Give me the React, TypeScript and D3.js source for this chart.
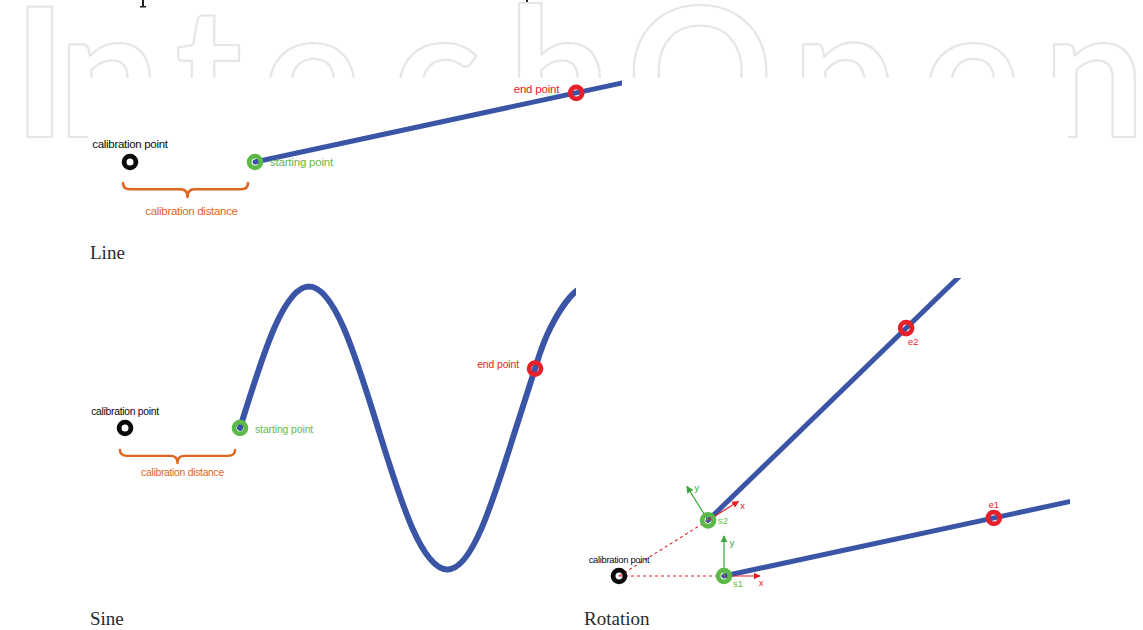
import React from "react";
import * as d3 from "d3";

// ---------- data (in units of the calibration distance, origin = calibration point) ----------
const calibrationPoint: [number, number] = [0, 0];
const startPoint: [number, number] = [1, 0];
const endPoint: [number, number] = [3.57, 0.553];
const rotationDeg = 32;

// sine panel: phase (in periods) and normalised value
const sinePhase = [0, 0.125, 0.25, 0.375, 0.5, 0.625, 0.75, 0.875, 1.0, 1.069, 1.125, 1.25, 1.375, 1.5];
const sineValue = [0, 0.71, 1, 0.71, 0, -0.71, -1, -0.71, 0, 0.42, 0.71, 1, 0.71, 0];
const sinePeriod = 2.4; // calibration units
const sineAmplitude = 1.23; // calibration units
const sineEndIndex = 9;

const watermarkLetters = ["I", "n", "t", "e", "c", "h", "O", "p", "e", "n"];
const watermarkX = [13, 58, 175, 263, 393, 508, 627, 792, 923, 1043];

const captions = ["Line", "Sine", "Rotation"];

// ---------- styles ----------
const BLUE = "#3b55a6";
const GREEN = "#5cb947";
const GREEN_TXT = "#63bb4a";
const RED = "#e8202a";
const ORANGE = "#e0661f";
const BLACK = "#0b0b0b";
const SANS = "'Liberation Sans', Arial, Helvetica, sans-serif";
const SERIF = "'Liberation Serif', 'Times New Roman', serif";

function makeScales(ox: number, oy: number, unit: number) {
  const sx = d3.scaleLinear().domain([0, 1]).range([ox, ox + unit]);
  const sy = d3.scaleLinear().domain([0, 1]).range([oy, oy - unit]);
  return { sx, sy };
}

function rotate(p: [number, number], deg: number): [number, number] {
  const a = (deg * Math.PI) / 180;
  return [p[0] * Math.cos(a) - p[1] * Math.sin(a), p[0] * Math.sin(a) + p[1] * Math.cos(a)];
}

function farPoint(): [number, number] {
  const k = 1.6;
  return [startPoint[0] + (endPoint[0] - startPoint[0]) * k, startPoint[1] + (endPoint[1] - startPoint[1]) * k];
}

function bracePath(x0: number, x1: number, yTop: number, yTip: number, tipX: number) {
  const yMid = yTop + (yTip - yTop) * 0.45;
  const r = 7;
  return `M${x0},${yTop} Q${x0},${yMid} ${x0 + r},${yMid} L${tipX - r},${yMid} Q${tipX},${yMid} ${tipX},${yTip} Q${tipX},${yMid} ${tipX + r},${yMid} L${x1 - r},${yMid} Q${x1},${yMid} ${x1},${yTop}`;
}

const Ring = ({ x, y, color }: { x: number; y: number; color: string }) => (
  <circle cx={x} cy={y} r={5.9} fill="none" stroke={color} strokeWidth={4.8} />
);

function LinePanel() {
  const { sx, sy } = makeScales(130, 162, 125);
  const line = d3.line<[number, number]>().x((d) => sx(d[0])).y((d) => sy(d[1]));
  const cp = [sx(calibrationPoint[0]), sy(calibrationPoint[1])];
  const sp = [sx(startPoint[0]), sy(startPoint[1])];
  const ep = [sx(endPoint[0]), sy(endPoint[1])];
  const fs = 11.5;
  return (
    <g>
      <defs>
        <clipPath id="clipLine">
          <rect x={88} y={78} width={534} height={165} />
        </clipPath>
      </defs>
      <path d={line([startPoint, farPoint()]) || ""} stroke={BLUE} strokeWidth={5} fill="none" strokeLinecap="round" clipPath="url(#clipLine)" />
      <Ring x={cp[0]} y={cp[1]} color={BLACK} />
      <Ring x={sp[0]} y={sp[1]} color={GREEN} />
      <Ring x={ep[0]} y={ep[1]} color={RED} />
      <text x={cp[0]} y={cp[1] - 14} fontSize={fs} fontFamily={SANS} fill={BLACK} textAnchor="middle" letterSpacing={-0.3}>calibration point</text>
      <text x={sp[0] + 15} y={sp[1] + 4} fontSize={fs} fontFamily={SANS} fill={GREEN_TXT} letterSpacing={-0.2}>starting point</text>
      <text x={ep[0] - 17} y={ep[1]} fontSize={fs} fontFamily={SANS} fill={RED} textAnchor="end" letterSpacing={-0.2}>end point</text>
      <path d={bracePath(cp[0] - 7, sp[0] - 7, cp[1] + 21, cp[1] + 35, (cp[0] + sp[0]) / 2 - 5)} stroke={ORANGE} strokeWidth={2.6} fill="none" strokeLinecap="round" strokeLinejoin="round" />
      <text x={(cp[0] + sp[0]) / 2 - 1} y={cp[1] + 53} fontSize={fs} fontFamily={SANS} fill={ORANGE} textAnchor="middle" letterSpacing={-0.3}>calibration distance</text>
    </g>
  );
}

function SinePanel() {
  const { sx, sy } = makeScales(125, 428, 115);
  const pts: [number, number][] = sinePhase.map((p, i) => [startPoint[0] + p * sinePeriod, sineValue[i] * sineAmplitude]);
  const line = d3.line<[number, number]>().x((d) => sx(d[0])).y((d) => sy(d[1])).curve(d3.curveNatural);
  const cp = [sx(calibrationPoint[0]), sy(calibrationPoint[1])];
  const sp = [sx(startPoint[0]), sy(startPoint[1])];
  const ep = [sx(pts[sineEndIndex][0]), sy(pts[sineEndIndex][1])];
  const fs = 10.4;
  return (
    <g>
      <defs>
        <clipPath id="clipSine">
          <rect x={88} y={270} width={488} height={330} />
        </clipPath>
      </defs>
      <path d={line(pts) || ""} stroke={BLUE} strokeWidth={6} fill="none" strokeLinecap="round" clipPath="url(#clipSine)" />
      <Ring x={cp[0]} y={cp[1]} color={BLACK} />
      <Ring x={sp[0]} y={sp[1]} color={GREEN} />
      <Ring x={ep[0]} y={ep[1]} color={RED} />
      <text x={cp[0]} y={cp[1] - 13} fontSize={fs} fontFamily={SANS} fill={BLACK} textAnchor="middle" letterSpacing={-0.3}>calibration point</text>
      <text x={sp[0] + 15} y={sp[1] + 5} fontSize={fs} fontFamily={SANS} fill={GREEN_TXT} letterSpacing={-0.1}>starting point</text>
      <text x={ep[0] - 16} y={ep[1] - 1} fontSize={fs} fontFamily={SANS} fill={RED} textAnchor="end" letterSpacing={-0.1}>end point</text>
      <path d={bracePath(cp[0] - 5, sp[0] - 5, cp[1] + 22, cp[1] + 35, (cp[0] + sp[0]) / 2 - 5)} stroke={ORANGE} strokeWidth={2.4} fill="none" strokeLinecap="round" strokeLinejoin="round" />
      <text x={(cp[0] + sp[0]) / 2} y={cp[1] + 48} fontSize={fs} fontFamily={SANS} fill={ORANGE} textAnchor="middle" letterSpacing={-0.3}>calibration distance</text>
    </g>
  );
}

function RotationPanel() {
  const { sx, sy } = makeScales(619, 576, 105);
  const P = (p: [number, number]) => [sx(p[0]), sy(p[1])] as [number, number];
  const line = d3.line<[number, number]>().x((d) => sx(d[0])).y((d) => sy(d[1]));
  const s2 = rotate(startPoint, rotationDeg);
  const e2 = rotate(endPoint, rotationDeg);
  const far2 = rotate(farPoint(), rotationDeg);
  const cp = P(calibrationPoint);
  const s1p = P(startPoint);
  const e1p = P(endPoint);
  const s2p = P(s2);
  const e2p = P(e2);
  const fs = 9.4;
  const axLen = 36;
  const axes = (o: [number, number], deg: number, key: string) => {
    const a = (deg * Math.PI) / 180;
    const xt: [number, number] = [o[0] + axLen * Math.cos(a), o[1] - axLen * Math.sin(a)];
    const yt: [number, number] = [o[0] - 40 * Math.sin(a), o[1] - 40 * Math.cos(a)];
    const off = (dx: number, dy: number): [number, number] => [dx * Math.cos(a) + dy * Math.sin(a), -dx * Math.sin(a) + dy * Math.cos(a)];
    const xl = off(1, 6);
    const yl = off(8, 6);
    return (
      <g key={key}>
        <line x1={o[0]} y1={o[1]} x2={xt[0]} y2={xt[1]} stroke={RED} strokeWidth={1.2} markerEnd="url(#arrRed)" />
        <line x1={o[0]} y1={o[1]} x2={yt[0]} y2={yt[1]} stroke="#3aa53a" strokeWidth={1.2} markerEnd="url(#arrGreen)" />
        <text x={xt[0] + xl[0]} y={xt[1] + xl[1] + 3.5} fontSize={fs} fontFamily={SANS} fill={RED} textAnchor="middle">x</text>
        <text x={yt[0] + yl[0]} y={yt[1] + yl[1] + 3.5} fontSize={fs} fontFamily={SANS} fill="#3aa53a" textAnchor="middle">y</text>
      </g>
    );
  };
  return (
    <g>
      <defs>
        <clipPath id="clipRot">
          <rect x={580} y={278} width={490} height={322} />
        </clipPath>
        <marker id="arrRed" viewBox="0 0 10 10" refX={9} refY={5} markerWidth={6} markerHeight={6} orient="auto">
          <path d="M0,0 L10,5 L0,10 z" fill={RED} />
        </marker>
        <marker id="arrGreen" viewBox="0 0 10 10" refX={9} refY={5} markerWidth={6} markerHeight={6} orient="auto">
          <path d="M0,0 L10,5 L0,10 z" fill="#3aa53a" />
        </marker>
      </defs>
      <line x1={cp[0]} y1={cp[1]} x2={s1p[0]} y2={s1p[1]} stroke={RED} strokeWidth={1.1} strokeDasharray="3,3" />
      <line x1={cp[0]} y1={cp[1]} x2={s2p[0]} y2={s2p[1]} stroke={RED} strokeWidth={1.1} strokeDasharray="3,3" />
      <g clipPath="url(#clipRot)">
        <path d={line([startPoint, farPoint()]) || ""} stroke={BLUE} strokeWidth={5} fill="none" strokeLinecap="round" />
        <path d={line([s2, far2]) || ""} stroke={BLUE} strokeWidth={5} fill="none" strokeLinecap="round" />
      </g>
      {axes(s1p, 0, "a1")}
      {axes(s2p, rotationDeg, "a2")}
      <Ring x={cp[0]} y={cp[1]} color={BLACK} />
      <Ring x={s1p[0]} y={s1p[1]} color={GREEN} />
      <Ring x={s2p[0]} y={s2p[1]} color={GREEN} />
      <Ring x={e1p[0]} y={e1p[1]} color={RED} />
      <Ring x={e2p[0]} y={e2p[1]} color={RED} />
      <text x={cp[0]} y={cp[1] - 13} fontSize={fs} fontFamily={SANS} fill={BLACK} textAnchor="middle" letterSpacing={-0.3}>calibration point</text>
      <text x={s1p[0] + 9} y={s1p[1] + 11} fontSize={fs} fontFamily={SANS} fill={GREEN_TXT}>s1</text>
      <text x={s2p[0] + 10} y={s2p[1] + 4} fontSize={fs} fontFamily={SANS} fill={GREEN_TXT}>s2</text>
      <text x={e1p[0]} y={e1p[1] - 10} fontSize={fs} fontFamily={SANS} fill={RED} textAnchor="middle">e1</text>
      <text x={e2p[0] + 2} y={e2p[1] + 17} fontSize={fs} fontFamily={SANS} fill={RED}>e2</text>
    </g>
  );
}

export default function App() {
  return (
    <svg width={1143} height={630} style={{ position: "absolute", left: 0, top: 0, background: "#fff" }}>
      <rect x={0} y={0} width={1143} height={630} fill="#fff" />
      {/* cut-off descenders of a text line above */}
      {[143, 527].map((x) => (
        <path key={x} d={`M${x - 1},0 H${x + 1} V6 H${x + 3} V7.6 H${x - 3} V6 H${x - 1} Z`} fill="#222" />
      ))}
      {/* watermark */}
      <text
        x={watermarkX.join(" ")}
        y={137}
        fontSize={181}
        fontFamily="Lato, 'Open Sans', sans-serif"
        fontWeight={700}
        fill="#fff"
        stroke="#e6e6e6"
        strokeWidth={2.2}
        strokeLinejoin="round"
      >
        {watermarkLetters.join("")}
      </text>
      <rect x={88} y={78} width={980} height={170} fill="#fff" />
      <LinePanel />
      <SinePanel />
      <RotationPanel />
      <text x={90} y={259} fontSize={19} fontFamily={SERIF} fill="#2a2a2a">{captions[0]}</text>
      <text x={90} y={625} fontSize={19} fontFamily={SERIF} fill="#2a2a2a">{captions[1]}</text>
      <text x={584} y={625} fontSize={19} fontFamily={SERIF} fill="#2a2a2a">{captions[2]}</text>
    </svg>
  );
}
